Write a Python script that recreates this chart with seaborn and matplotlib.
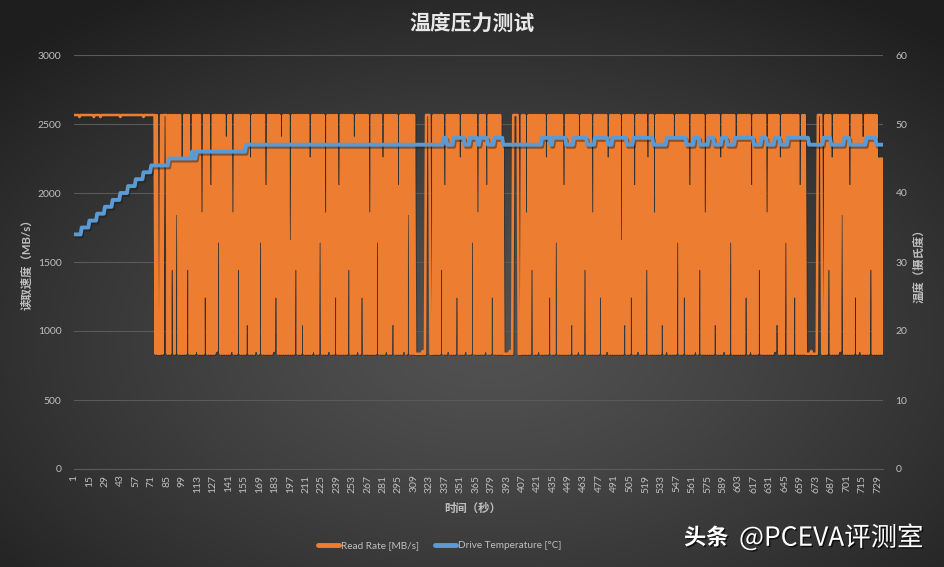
import numpy as np
import pandas as pd
import matplotlib
matplotlib.use('Agg')
import matplotlib.pyplot as plt
import matplotlib.patheffects as pe
from matplotlib.lines import Line2D
import seaborn as sns

# 读取速度：每秒一个字符  H/h = 高速, L/l = 低速, M = 末尾偏低的高点
# 数字 = 没跑满/没跌到底的那一秒 (MB/s)
rate_levels = {'H': 2565, 'h': 2550, 'M': 2250, 'L': 835, 'l': 855,
               '1': 1050, '2': 1250, '3': 1450, '4': 1650, '5': 1850,
               '6': 2050, '7': 2250, '8': 2400}
rate_pattern = [
    "HHHHHhHHHH HHHHHHHHhH HHHHhHHHHH HHHHHHHHHH HHhHHHHHHH",
    "HHHHHHHHHH HHHhHHHHHH HHHHLHLLLH LHHHHLHLH3 HLH5HLHL7L",
    "HLH3HL7LHL HlHLHL5LH2 HLHL6LHLHl H4HLHLHL8L HLHl5LHLH3",
    "HLHLHLH1HL 7LHLHlHLH4 HLHL6LHLHL HlH2HLHL8L HLHLHL4LHL",
    "H3HLHLH1HL HLHL7LHlHL HLH4HLHL5L HlHLHLH2HL 6LHLHLHLH3",
    "HLHL8LHlHL H2HLHLHL5L HLHLH4HLHL 7LHlHLHLH1 HLHL6LHLHl",
    "HLH5HLHLHL LLLLLLlLLH HHHLLLHLHL HLH3HL6LHl HLHLHLH2HL",
    "7LHLHlHLHL H4HLHL5LHL HLHl6LHLH2 HLHLHLHL8L LLLLLlLLHH",
    "HHHLLLHLHL 5LHLH3HLHL HlHLHLHL7L H2HLHLH4HL HLHL6LHLHL",
    "H1HLHLHl8L HLH3HLHLHL 5LHLHLH2HL HLHl7LHLHL HLHLHL4LH1",
    "HLHLH2HL6L HlHLHLHLH3 7LHLHL5LHL HLH1HLHlHL HLHL8LH4HL",
    "HLH2HLHL6L HLHlHLH3HL HL5LHLHLHL H1HLHL7LHl HLHLH4HLHL",
    "8LHLHLHLH2 HLHl6LHLHL H3HLHLHL5L HLHLHlH1HL 7LHLH4HLHL",
    "HLH2HLHL6L HLHLLLLLlL LLLLHHHHLL LHLH3HL7LH LHLHlH5HLH",
    "LHL6LHLH2H LHlHL8LHLH LH3HLHLHLM LMLM",
]

# 硬盘温度（°C），按持续秒数记录
temp_values = [34, 35, 36, 37, 38, 39, 40, 41, 42, 43, 44, 45, 46, 45, 46,
               47, 48, 47, 48, 47, 48, 47, 48, 47, 48, 47, 48, 47, 48, 47,
               48, 47, 48, 47, 48, 47, 48, 47, 48, 47, 48, 47, 48, 47, 48,
               47, 48, 47, 48, 47, 48, 47, 48, 47, 48, 47, 48, 47, 48, 47]
temp_counts = [7, 7, 7, 7, 7, 7, 7, 7, 7, 7, 16, 21, 1, 3, 45,
               179, 3, 6, 10, 5, 7, 2, 7, 6, 8, 35, 8, 2, 12, 7,
               12, 7, 12, 4, 13, 6, 18, 12, 18, 7, 5, 8, 5, 7, 5,
               7, 17, 7, 5, 7, 5, 7, 19, 13, 7, 12, 5, 15, 9, 7]

x_tick_labels = [1, 15, 29, 43, 57, 71, 85, 99, 113, 127, 141, 155, 169, 183,
                 197, 211, 225, 239, 253, 267, 281, 295, 309, 323, 337, 351,
                 365, 379, 393, 407, 421, 435, 449, 463, 477, 491, 505, 519,
                 533, 547, 561, 575, 589, 603, 617, 631, 645, 659, 673, 687,
                 701, 715, 729]

pattern = ''.join(rate_pattern).replace(' ', '')
read_rate = [rate_levels[c] for c in pattern]
temperature = np.repeat(temp_values, temp_counts)
seconds = np.arange(1, len(read_rate) + 1)

df = pd.DataFrame({'秒': seconds, '读取速度': read_rate, '温度': temperature})

sns.set_theme(style='dark')
plt.rcParams['font.family'] = ['Lato', 'Noto Sans CJK SC', 'DejaVu Sans']

orange = '#ED7D31'
blue = '#5B9BD5'
txt = '#bfbfbf'

fig = plt.figure(figsize=(9.45, 5.67), dpi=100)

# 背景渐变
bg = fig.add_axes([0, 0, 1, 1], zorder=-10)
yy, xx = np.mgrid[0:567, 0:945]
r = np.hypot((xx - 490) / 945, (yy - 340) / 567)
shade = 0x52 - (0x52 - 0x1f) * np.clip(r / 0.72, 0, 1) ** 1.3
bg.imshow(shade, cmap='gray', vmin=0, vmax=255, aspect='auto')
bg.axis('off')

ax = fig.add_axes([74 / 945, 1 - 469 / 567, 809 / 945, 414 / 567])
ax.set_facecolor('none')
ax2 = ax.twinx()

sns.lineplot(data=df, x='秒', y='读取速度', ax=ax, color=orange, lw=1.85,
             estimator=None, sort=False, legend=False)
ax.lines[-1].set_path_effects([pe.SimpleLineShadow(offset=(0.8, -0.8), alpha=0.35),
                               pe.Normal()])
sns.lineplot(data=df, x='秒', y='温度', ax=ax2, color=blue, lw=2.8,
             estimator=None, sort=False, legend=False)
ax2.lines[-1].set_path_effects([pe.SimpleLineShadow(offset=(1, -1.5), alpha=0.45),
                                pe.Normal()])

ax.set_xlim(1, len(read_rate))
ax.set_ylim(0, 3000)
ax2.set_ylim(0, 60)
ax.set_yticks([0, 500, 1000, 1500, 2000, 2500, 3000])
ax2.set_yticks([0, 10, 20, 30, 40, 50, 60])
ax.set_xticks(x_tick_labels)
ax.set_xticklabels([str(v) for v in x_tick_labels], rotation=90)

ax.yaxis.grid(True, color='#5a5a5a', lw=0.8)
ax.xaxis.grid(False)
ax2.grid(False)
ax.set_axisbelow(True)
for a in (ax, ax2):
    for s in a.spines.values():
        s.set_visible(False)
ax.spines['bottom'].set_visible(True)
ax.spines['bottom'].set_color('#5a5a5a')
ax.spines['bottom'].set_linewidth(0.8)

ax.tick_params(axis='y', length=0, pad=9, labelcolor=txt, labelsize=7.5)
ax2.tick_params(axis='y', length=0, pad=9, labelcolor=txt, labelsize=7.5)
ax.tick_params(axis='x', length=0, pad=4, labelcolor=txt, labelsize=7.5)
ax.set_xlabel('')
ax.set_ylabel('')
ax2.set_ylabel('')

fig.text(472 / 945, 1 - 25 / 567, '温度压力测试', ha='center', va='center',
         fontsize=15, color='#e8e8e8', weight='bold')
fig.text(27 / 945, 1 - 262 / 567, '读取速度（MB/s）', rotation=90, ha='center',
         va='center', fontsize=8.2, color=txt, weight='bold')
fig.text(919 / 945, 1 - 263 / 567, '温度（摄氏度）', rotation=90, ha='center',
         va='center', fontsize=8.2, color=txt, weight='bold')
fig.text(473 / 945, 1 - 508 / 567, '时间（秒）', ha='center', va='center',
         fontsize=8.2, color=txt, weight='bold')

handles = [Line2D([0], [0], color=orange, lw=3.5), Line2D([0], [0], color=blue, lw=3.5)]
fig.legend(handles, ['Read Rate [MB/s]', 'Drive Temperature [°C]'], loc='center',
           bbox_to_anchor=(440 / 945, 1 - 546 / 567), ncol=2, frameon=False,
           labelcolor=txt, fontsize=7.2, handlelength=2.1, handletextpad=0.2,
           columnspacing=1.6)

shadow = [pe.withSimplePatchShadow(offset=(1, -1), shadow_rgbFace='black', alpha=0.7)]
fig.text(684 / 945, 1 - 538 / 567, '头条', ha='left', va='center', fontsize=16,
         color='white', weight='bold', path_effects=shadow)
fig.text(739 / 945, 1 - 538 / 567, '@PCEVA评测室', ha='left', va='center',
         fontsize=19, color='white', family=['Noto Sans CJK SC', 'DejaVu Sans'],
         path_effects=shadow)

fig.savefig('out.png', dpi=100)
